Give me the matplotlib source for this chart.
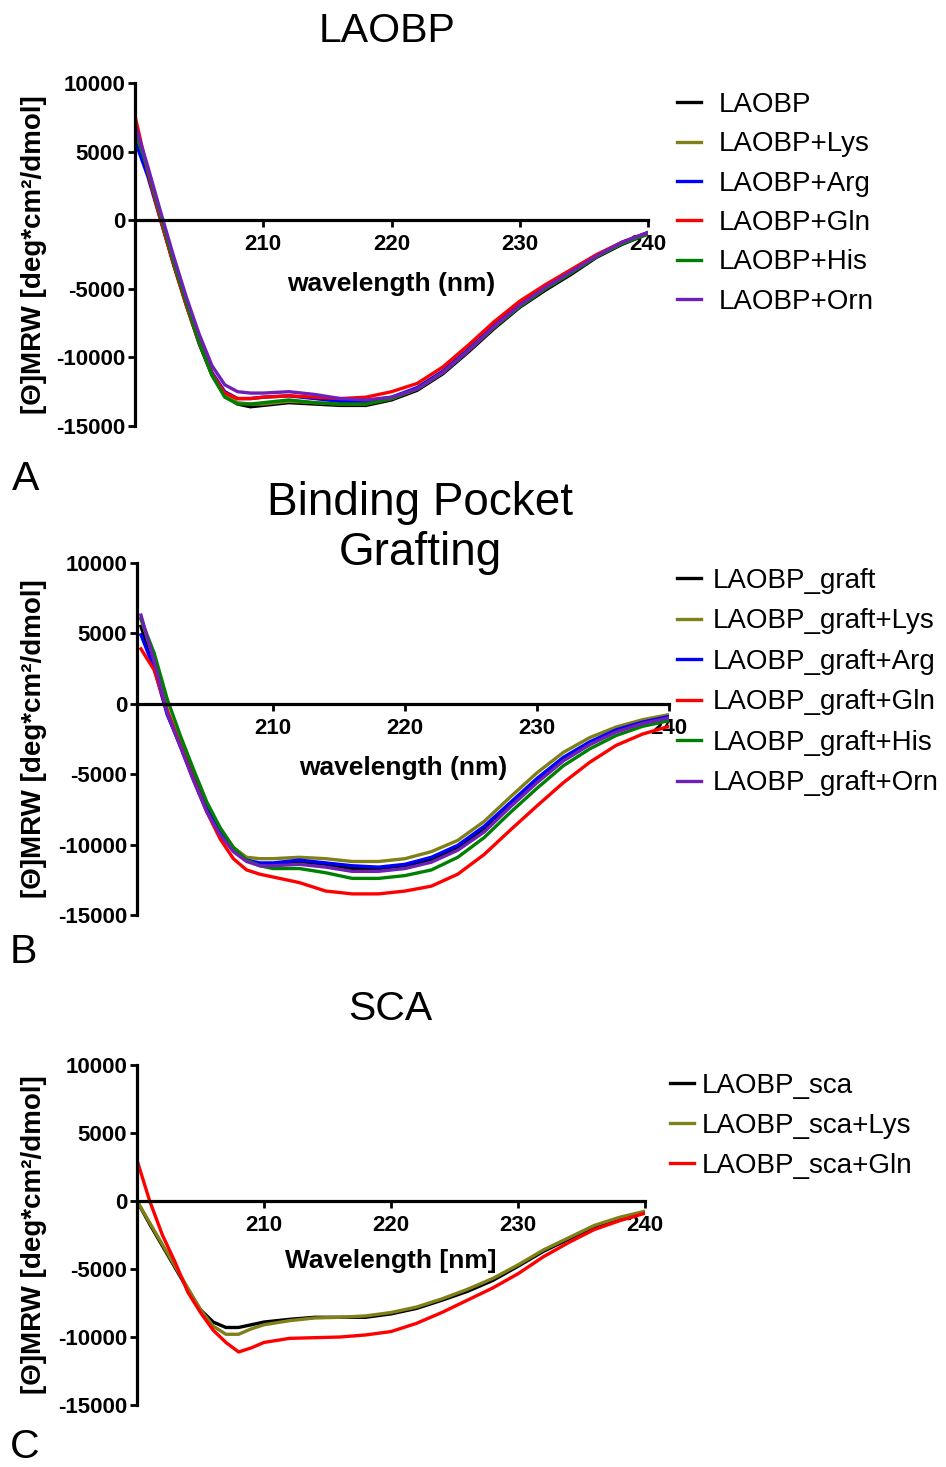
import matplotlib.pyplot as plt
import matplotlib.transforms as mtransforms

plt.rcParams['font.family'] = ['Liberation Sans', 'DejaVu Sans']
plt.rcParams['axes.unicode_minus'] = False

W, H = 946, 1467

# wavelength grid (nm)
wl = [200, 201, 202, 203, 204, 205, 206, 207, 208, 209, 210, 212, 214, 216,
      218, 220, 222, 224, 226, 228, 230, 232, 234, 236, 238, 240]

# A: LAOBP wild type, mean residue ellipticity
laobp = [6800, 3600, 100, -3200, -6200, -9000, -11300, -12800, -13400, -13600, -13500,
         -13300, -13400, -13500, -13500, -13100, -12400, -11200, -9600, -7900, -6350,
         -5100, -3950, -2700, -1750, -1000]
laobp_lys = [6900, 3600, 200, -3100, -6100, -8900, -11200, -12700, -13300, -13400, -13400,
             -13200, -13300, -13400, -13400, -13000, -12300, -11100, -9500, -7800, -6200,
             -4950, -3800, -2600, -1650, -950]
laobp_arg = [5800, 3200, 0, -3100, -6000, -8800, -11100, -12500, -13000, -13000, -12900,
             -12800, -13000, -13200, -13200, -12900, -12200, -11000, -9400, -7650, -6100,
             -4850, -3700, -2550, -1600, -900]
laobp_gln = [7600, 3500, 0, -3200, -6200, -8900, -11200, -12600, -13000, -13000, -12900,
             -12800, -12900, -13000, -12900, -12500, -11900, -10700, -9100, -7400, -5900,
             -4700, -3600, -2500, -1600, -900]
laobp_his = [6600, 3700, 300, -3000, -6000, -8900, -11300, -12900, -13400, -13400, -13300,
             -13100, -13300, -13400, -13400, -13000, -12300, -11100, -9500, -7800, -6300,
             -5000, -3850, -2650, -1700, -1000]
laobp_orn = [7000, 3900, 600, -2600, -5600, -8300, -10600, -12000, -12500, -12600, -12600,
             -12500, -12700, -13000, -13100, -12900, -12300, -11100, -9500, -7750, -6200,
             -4900, -3750, -2600, -1600, -900]

# B: binding pocket grafting
graft = [5500, 2700, -700, -3000, -5400, -7600, -9200, -10400, -11100, -11400, -11400,
         -11200, -11400, -11700, -11700, -11500, -11100, -10250, -8900, -7150, -5450,
         -3900, -2800, -1900, -1350, -950]
graft_lys = [6100, 3100, -500, -2800, -5100, -7300, -8900, -10200, -10900, -11000, -11000,
             -10900, -11000, -11200, -11200, -11000, -10500, -9700, -8350, -6600, -4900,
             -3450, -2400, -1650, -1130, -770]
graft_arg = [4900, 2500, -800, -3000, -5300, -7500, -9100, -10400, -11100, -11300, -11300,
             -11100, -11300, -11500, -11600, -11400, -10900, -10050, -8700, -7000, -5300,
             -3800, -2700, -1850, -1300, -900]
graft_gln = [3900, 2400, -500, -3000, -5400, -7700, -9600, -11000, -11800, -12100, -12300,
             -12700, -13300, -13500, -13500, -13300, -12950, -12100, -10700, -8950, -7250,
             -5600, -4150, -2950, -2150, -1600]
graft_his = [6000, 3600, 300, -2300, -4700, -7000, -8800, -10200, -11100, -11500, -11700,
             -11700, -12000, -12400, -12400, -12200, -11800, -10900, -9500, -7700, -6000,
             -4400, -3200, -2250, -1600, -1200]
graft_orn = [6300, 3000, -700, -3100, -5500, -7700, -9300, -10500, -11200, -11500, -11500,
             -11400, -11600, -11900, -11900, -11700, -11250, -10400, -9100, -7300, -5600,
             -4050, -2900, -2000, -1400, -1000]

# C: single chain variant
sca = [0, -1700, -3300, -4900, -6500, -8000, -8900, -9300, -9300, -9100, -8900,
       -8700, -8550, -8550, -8550, -8300, -7900, -7300, -6650, -5850, -4800,
       -3700, -2800, -1900, -1250, -800]
sca_lys = [0, -1600, -3200, -4800, -6400, -8000, -9200, -9800, -9800, -9400, -9100,
           -8800, -8600, -8550, -8450, -8200, -7800, -7200, -6500, -5700, -4700,
           -3600, -2700, -1800, -1200, -750]
sca_gln = [3000, 0, -2500, -4500, -6700, -8200, -9500, -10400, -11100, -10800, -10400,
           -10100, -10050, -10000, -9850, -9600, -9000, -8200, -7300, -6400, -5350,
           -4100, -3050, -2100, -1450, -900]

colors = {"black": "#000000", "olive": "#808018", "blue": "#0000ff",
          "red": "#ff0000", "green": "#008000", "purple": "#7020b8"}

yticks = [-15000, -10000, -5000, 0, 5000, 10000]
xticks = [210, 220, 230, 240]
ylab = "[\u0398]MRW [deg*cm\u00b2/dmol]"

fig = plt.figure(figsize=(W / 100, H / 100), dpi=100)


def cd_axes(box, xlim, series, xlabel, xlabel_top, leg_xy, leg_text, leg_space):
    left, right, top, bottom = box
    ax = fig.add_axes([left / W, 1 - bottom / H, (right - left) / W, (bottom - top) / H])
    for name, y, c in series:
        ax.plot(wl, y, color=colors[c], lw=2.4, label=name, solid_joinstyle="round")
    ax.set_xlim(*xlim)
    ax.set_ylim(-15000, 10000)
    ax.set_xticks(xticks)
    ax.set_yticks(yticks)
    for s in ("top", "right"):
        ax.spines[s].set_visible(False)
    ax.spines["bottom"].set_position(("data", 0))
    for s in ("left", "bottom"):
        ax.spines[s].set_linewidth(2.3)
    ax.tick_params(direction="out", length=5, width=2, labelsize=16, pad=2)
    ax.tick_params(axis="x", pad=5)
    for lab in ax.get_xticklabels() + ax.get_yticklabels():
        lab.set_fontweight("bold")
    ax.set_facecolor("none")
    ax.set_ylabel(ylab, fontsize=20, fontweight="bold")
    ax.yaxis.set_label_coords(47 / W, 0.5,
                              transform=mtransforms.blended_transform_factory(fig.transFigure, ax.transAxes))
    ax.set_xlabel(xlabel, fontsize=19, fontweight="bold", va="top")
    ax.xaxis.set_label_coords(0.5, 1 - xlabel_top / H,
                              transform=mtransforms.blended_transform_factory(ax.transAxes, fig.transFigure))
    lx, ly = leg_xy
    ax.legend(loc="upper left", bbox_to_anchor=(lx / W, 1 - ly / H),
              bbox_transform=fig.transFigure, frameon=False, fontsize=20,
              handlelength=0.85, handletextpad=leg_text, labelspacing=leg_space,
              borderpad=0, borderaxespad=0)
    return ax


cd_axes((135, 648, 83, 426), (200, 240),
        [("LAOBP", laobp, "black"), ("LAOBP+Lys", laobp_lys, "olive"),
         ("LAOBP+Arg", laobp_arg, "blue"), ("LAOBP+Gln", laobp_gln, "red"),
         ("LAOBP+His", laobp_his, "green"), ("LAOBP+Orn", laobp_orn, "purple")],
        "wavelength (nm)", 272, (677, 92), 0.65, 0.48)

cd_axes((137, 669, 563, 915), (199.7, 240),
        [("LAOBP_graft", graft, "black"), ("LAOBP_graft+Lys", graft_lys, "olive"),
         ("LAOBP_graft+Arg", graft_arg, "blue"), ("LAOBP_graft+Gln", graft_gln, "red"),
         ("LAOBP_graft+His", graft_his, "green"), ("LAOBP_graft+Orn", graft_orn, "purple")],
        "wavelength (nm)", 756, (677, 568), 0.45, 0.52)

cd_axes((137, 645, 1065, 1405), (200, 240),
        [("LAOBP_sca", sca, "black"), ("LAOBP_sca+Lys", sca_lys, "olive"),
         ("LAOBP_sca+Gln", sca_gln, "red")],
        "Wavelength [nm]", 1249, (670, 1073), 0.3, 0.5)

# panel titles and letters
fig.text(387 / W, 1 - 42 / H, "LAOBP", fontsize=29.5, ha="center", va="baseline")
fig.text(420 / W, 1 - 515 / H, "Binding Pocket", fontsize=33, ha="center", va="baseline")
fig.text(420 / W, 1 - 565 / H, "Grafting", fontsize=33, ha="center", va="baseline")
fig.text(390 / W, 1 - 1020 / H, "SCA", fontsize=29.5, ha="center", va="baseline")
fig.text(12 / W, 1 - 490 / H, "A", fontsize=29.5, va="baseline")
fig.text(10 / W, 1 - 963 / H, "B", fontsize=29.5, va="baseline")
fig.text(10 / W, 1 - 1458 / H, "C", fontsize=29.5, va="baseline")

fig.savefig("out.png", dpi=100)
